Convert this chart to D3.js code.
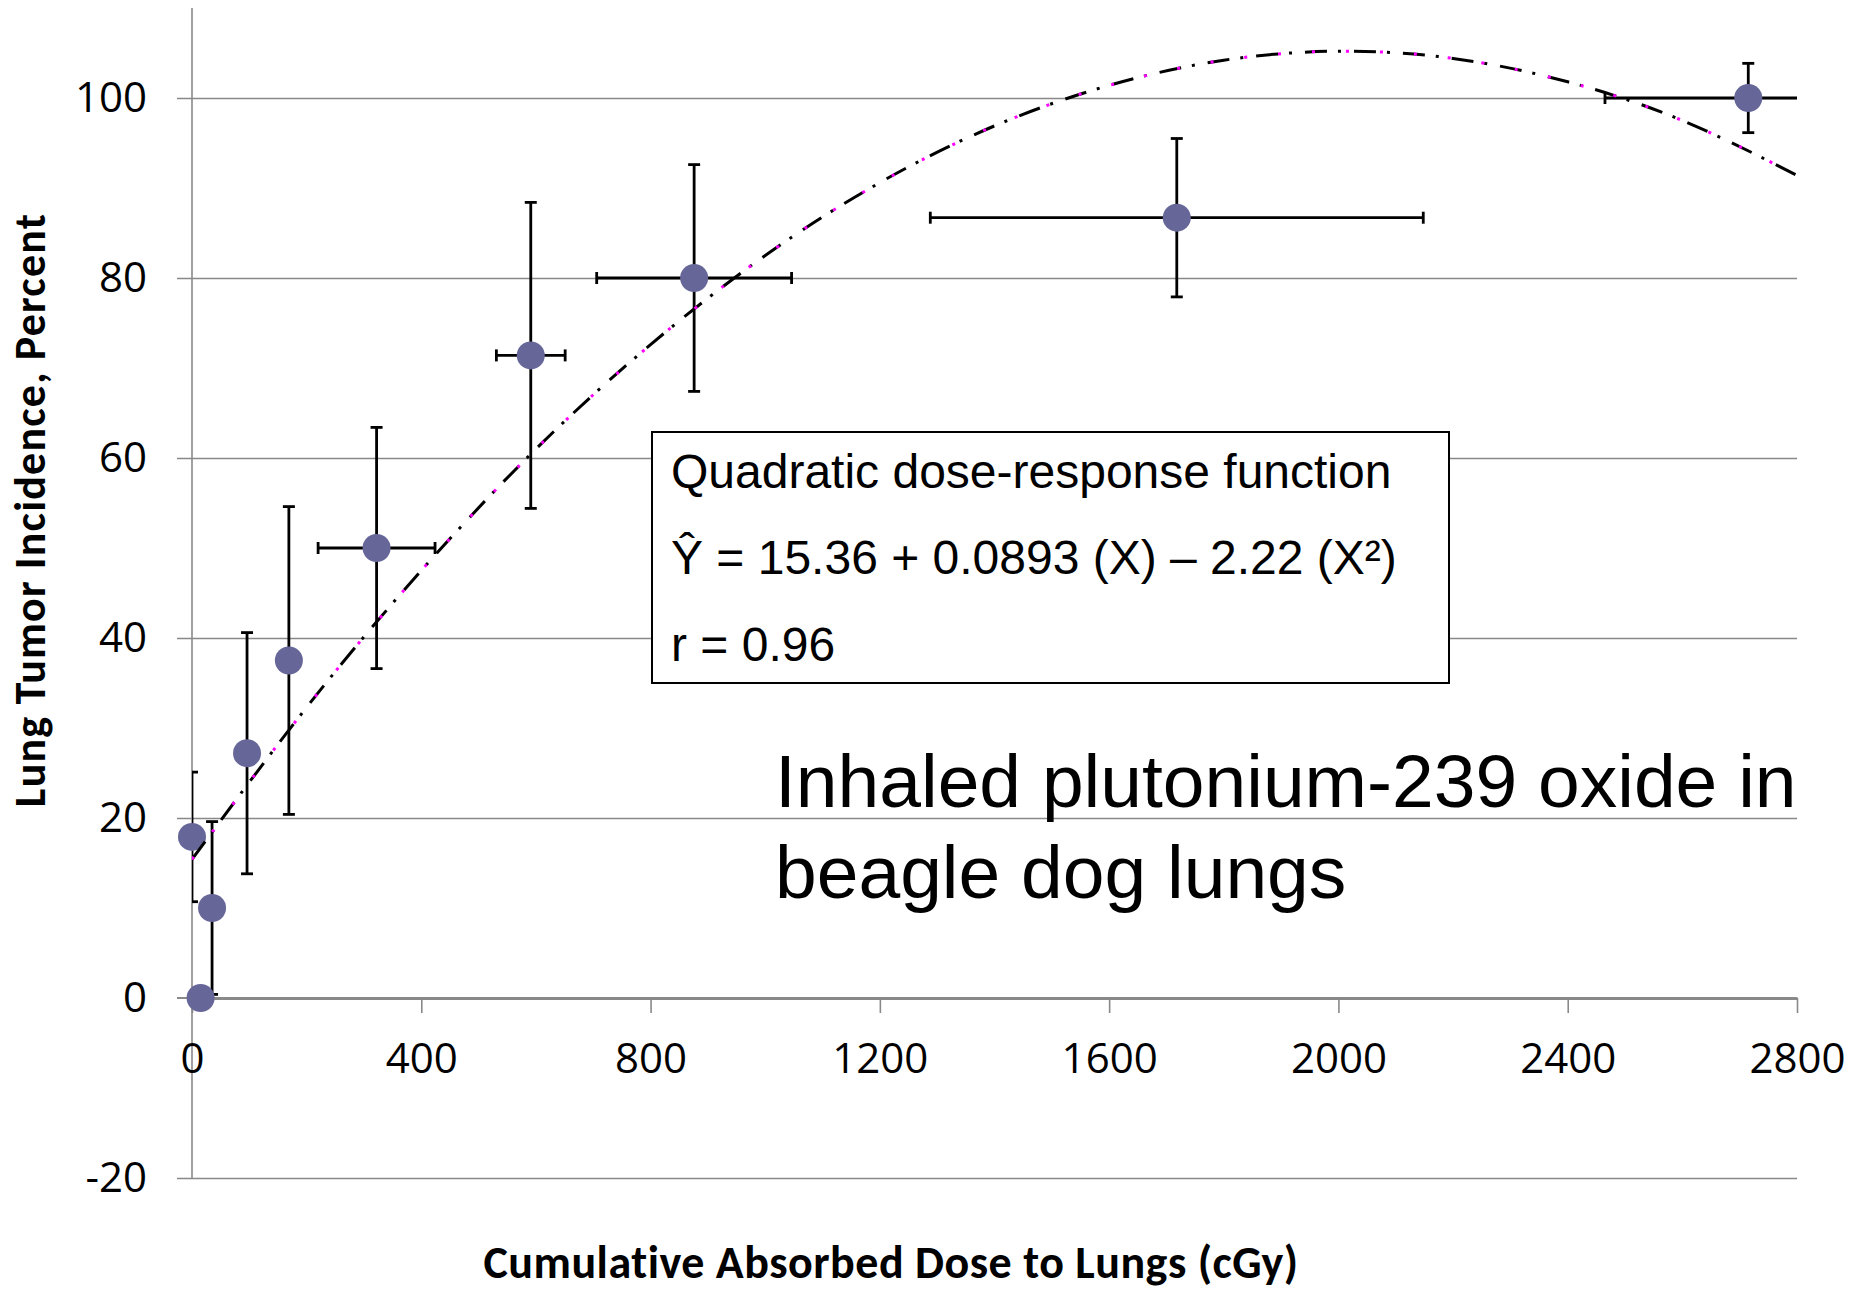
<!DOCTYPE html>
<html>
<head>
<meta charset="utf-8">
<script src="https://cdn.jsdelivr.net/npm/d3@7"></script>
<style>
  body { margin: 0; background: #ffffff; }
  svg { display: block; }
</style>
</head>
<body>
<svg id="chart" width="1850" height="1291"></svg>
<script>
// ---- data ----
const doses = [0, 35, 15, 96, 169, 322, 591, 876, 1718, 2715];
const incidence = [17.9, 10, 0, 27.2, 37.5, 50, 71.4, 80, 86.7, 100];
const yErr = [7.2, 9.6, 0, 13.4, 17.1, 13.4, 17, 12.6, 8.8, 3.85];
const xErr = [0, 0, 0, 0, 0, 102, 60, 170, 430, 250];

// fitted curve, read at every 200 cGy
const fitDose = [0, 200, 400, 600, 800, 1000, 1200, 1400, 1600, 1800, 2000, 2200, 2400, 2600, 2800];
const fitPct = [15.4, 32.3, 47.5, 61.0, 72.6, 82.5, 90.6, 96.9, 101.4, 104.2, 105.2, 104.4, 101.8, 97.5, 91.4];

const xTicks = [0, 400, 800, 1200, 1600, 2000, 2400, 2800];
const yTicks = [-20, 0, 20, 40, 60, 80, 100];

const boxLines = [
    "Quadratic dose-response function",
    "\u0176 = 15.36 + 0.0893 (X) \u2013 2.22 (X\u00B2)",
    "r = 0.96"
];
const noteLines = ["Inhaled plutonium-239 oxide in", "beagle dog lungs"];

const svg = d3.select("#chart"),
    margin = { top: 8, left: 192 },
    width = 1605,
    height = 1170;

const chart = svg.append("g")
    .attr("transform", `translate(${margin.left},${margin.top})`);

const x = d3.scaleLinear().domain([0, 2800]).range([0, width]);
const y = d3.scaleLinear().domain([-20, 110]).range([height, 0]);

const tickFont = "'Open Sans', sans-serif";
const titleFont = "Carlito, Lato, sans-serif";
const gray = "#898989";
const plainNum = d => String(d); // hyphen minus, as in the original

// gridlines (stick out 15px left of the axis)
const grid = chart.append("g")
    .attr("transform", "translate(-15,0)")
    .call(d3.axisLeft(y).tickValues(yTicks.filter(v => v !== 0)).tickSize(-(width + 15)).tickFormat(""));
grid.select(".domain").remove();
grid.selectAll("line").attr("stroke", gray).attr("stroke-width", 1.6);

// y axis line
chart.append("line")
    .attr("x1", 0).attr("x2", 0)
    .attr("y1", y(110)).attr("y2", y(-20))
    .attr("stroke", gray).attr("stroke-width", 1.6);

// y tick labels
const yAxis = chart.append("g")
    .call(d3.axisLeft(y).tickValues(yTicks).tickSize(0).tickPadding(45).tickFormat(plainNum));
yAxis.select(".domain").remove();
yAxis.selectAll("text")
    .attr("dy", 13)
    .style("font-family", tickFont)
    .style("font-size", "42px")
    .style("fill", "#000");

// x axis at zero
const xAxis = chart.append("g")
    .attr("transform", `translate(0,${y(0)})`)
    .call(d3.axisBottom(x).tickValues(xTicks).tickSize(15).tickSizeOuter(0).tickFormat(plainNum));
xAxis.select(".domain").attr("stroke", gray).attr("stroke-width", 3);
xAxis.selectAll(".tick line").attr("stroke", gray).attr("stroke-width", 1.6);
xAxis.selectAll("text")
    .attr("y", 75)
    .attr("dy", null)
    .style("font-family", tickFont)
    .style("font-size", "42px")
    .style("fill", "#000");
// short stub left of the zero line, like the other ticks
chart.append("line")
    .attr("x1", -15).attr("x2", 0)
    .attr("y1", y(0)).attr("y2", y(0))
    .attr("stroke", gray).attr("stroke-width", 2);

// axis titles
svg.append("text")
    .attr("x", 891)
    .attr("y", 1278)
    .attr("text-anchor", "middle")
    .style("font-family", titleFont)
    .style("font-weight", "bold")
    .style("font-size", "46px")
    .style("letter-spacing", "0.5px")
    .text("Cumulative Absorbed Dose to Lungs (cGy)");

svg.append("text")
    .attr("transform", "translate(45,510) rotate(-90)")
    .attr("text-anchor", "middle")
    .style("font-family", titleFont)
    .style("font-weight", "bold")
    .style("font-size", "44px")
    .style("letter-spacing", "1.2px")
    .text("Lung Tumor Incidence, Percent");

// clip to plot area
svg.append("defs").append("clipPath").attr("id", "plot-clip")
    .append("rect")
    .attr("x", 0).attr("y", 0)
    .attr("width", width).attr("height", height);

const points = doses.map((d, i) => ({ dose: d, pct: incidence[i], ey: yErr[i], ex: xErr[i] }));

// error bars
const bars = chart.append("g").attr("clip-path", "url(#plot-clip)")
    .attr("stroke", "#000").attr("stroke-width", 2.8);
const cap = 6;

points.filter(d => d.ey > 0).forEach(d => {
    const cx = x(d.dose);
    bars.append("line").attr("x1", cx).attr("x2", cx)
        .attr("y1", y(d.pct - d.ey)).attr("y2", y(d.pct + d.ey));
    [d.pct - d.ey, d.pct + d.ey].forEach(v => {
        bars.append("line").attr("x1", cx - cap).attr("x2", cx + cap)
            .attr("y1", y(v)).attr("y2", y(v));
    });
});
points.filter(d => d.ex > 0).forEach(d => {
    const cy = y(d.pct);
    bars.append("line").attr("y1", cy).attr("y2", cy)
        .attr("x1", x(d.dose - d.ex)).attr("x2", x(d.dose + d.ex));
    [d.dose - d.ex, d.dose + d.ex].forEach(v => {
        bars.append("line").attr("y1", cy - cap).attr("y2", cy + cap)
            .attr("x1", x(v)).attr("x2", x(v));
    });
});

// markers
chart.append("g")
    .selectAll("circle")
    .data(points)
    .join("circle")
    .attr("cx", d => x(d.dose))
    .attr("cy", d => y(d.pct))
    .attr("r", 14)
    .attr("fill", "#666699");

// fitted curve: black dash-dot with magenta dots on top
const fit = fitDose.map((d, i) => ({ dose: d, pct: fitPct[i] }));
const line = d3.line()
    .x(d => x(d.dose))
    .y(d => y(d.pct))
    .curve(d3.curveNatural);

const fitG = chart.append("g").attr("clip-path", "url(#plot-clip)");
fitG.append("path")
    .datum(fit)
    .attr("d", line)
    .attr("fill", "none")
    .attr("stroke", "#000")
    .attr("stroke-width", 3)
    .attr("stroke-dasharray", "22,11,3,13");
fitG.append("path")
    .datum(fit)
    .attr("d", line)
    .attr("fill", "none")
    .attr("stroke", "#ff00ff")
    .attr("stroke-width", 3)
    .attr("stroke-dasharray", "3,31");

// equation box
svg.append("rect")
    .attr("x", 652).attr("y", 432)
    .attr("width", 797).attr("height", 251)
    .attr("fill", "#fff")
    .attr("stroke", "#000")
    .attr("stroke-width", 2);

const boxBase = [488, 574, 661];
svg.append("g")
    .selectAll("text")
    .data(boxLines)
    .join("text")
    .attr("x", 671)
    .attr("y", (d, i) => boxBase[i])
    .style("font-family", "'Liberation Sans', Arial, sans-serif")
    .style("font-size", "48px")
    .text(d => d);

// annotation
const noteBase = [807, 898];
svg.append("g")
    .selectAll("text")
    .data(noteLines)
    .join("text")
    .attr("x", 775)
    .attr("y", (d, i) => noteBase[i])
    .style("font-family", "'Liberation Sans', Arial, sans-serif")
    .style("font-size", "75px")
    .text(d => d);
</script>
</body>
</html>
